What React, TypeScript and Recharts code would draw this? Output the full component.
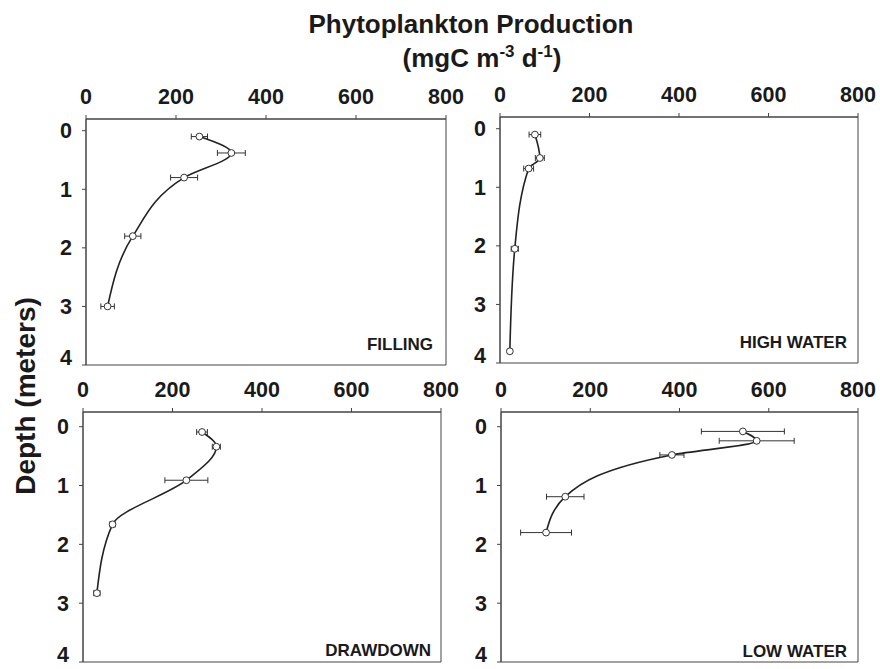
import React from 'react';
import { ComposedChart, Line, XAxis, YAxis, ErrorBar, ReferenceArea } from 'recharts';

const prodTicks = [0, 200, 400, 600, 800];
const depthTicks = [0, 1, 2, 3, 4];

// FILLING
const fillingDepth = [0.1, 0.38, 0.8, 1.8, 3.0];
const fillingProd = [252, 323, 218, 104, 48];
const fillingErr = [18, 31, 30, 18, 15];

// HIGH WATER
const highDepth = [0.1, 0.5, 0.68, 2.05, 3.8];
const highProd = [78, 89, 64, 33, 22];
const highErr = [13, 10, 11, 8, 4];

// DRAWDOWN
const drawDepth = [0.09, 0.34, 0.91, 1.66, 2.83];
const drawProd = [266, 298, 231, 66, 31];
const drawErr = [12, 9, 48, 6, 7];

// LOW WATER
const lowDepth = [0.08, 0.24, 0.48, 1.19, 1.8];
const lowProd = [542, 573, 383, 144, 101];
const lowErr = [93, 84, 27, 42, 57];

const FONT = '"Liberation Sans", Arial, Helvetica, sans-serif';
const INK = '#1a1a1a';

const toRows = (depth: number[], prod: number[], err: number[]) =>
  depth.map((d, i) => ({ depth: d, prod: prod[i], err: err[i] }));

type Box = { l: number; t: number; r: number; b: number };

const Y_W = 45;
const X_H = 40;
const MR = 30;
const MB = 5;

const Panel = ({ rows, box, yMin }: { rows: any[]; box: Box; yMin: number }) => {
  const width = box.r - box.l + Y_W + MR;
  const height = box.b - box.t + X_H + MB;
  const tickStyle = { fontSize: 21.5, fontWeight: 700, fill: INK, fontFamily: FONT };
  return (
    <div style={{ position: 'absolute', left: box.l - Y_W, top: box.t - X_H }}>
      <ComposedChart
        width={width}
        height={height}
        data={rows}
        layout="vertical"
        margin={{ top: 0, right: MR, bottom: MB, left: 0 }}
      >
        <XAxis
          type="number"
          dataKey="prod"
          orientation="top"
          domain={[0, 800]}
          ticks={prodTicks}
          allowDataOverflow
          height={X_H}
          tick={tickStyle}
          tickSize={4}
          tickMargin={11}
          axisLine={{ stroke: '#444' }}
          tickLine={{ stroke: '#444' }}
        />
        <YAxis
          type="number"
          dataKey="depth"
          domain={[yMin, 4]}
          ticks={depthTicks}
          allowDataOverflow
          width={Y_W}
          tick={tickStyle}
          tickSize={4}
          tickMargin={10}
          axisLine={{ stroke: '#444' }}
          tickLine={{ stroke: '#444' }}
        />
        <ReferenceArea x1={0} x2={800} y1={yMin} y2={4} fill="none" stroke="#444" strokeWidth={1} />
        <Line
          dataKey="prod"
          type="monotone"
          stroke="#222"
          strokeWidth={1.6}
          dot={{ r: 3.4, fill: '#fff', stroke: '#333', strokeWidth: 1 }}
          activeDot={false}
          isAnimationActive={false}
        >
          <ErrorBar dataKey="err" direction="x" width={3} stroke="#333" strokeWidth={1} />
        </Line>
      </ComposedChart>
    </div>
  );
};

const App = () => {
  const labelStyle = { fontSize: 17, fontWeight: 700, fill: INK, fontFamily: FONT };
  return (
    <div style={{ position: 'absolute', left: 0, top: 0, width: 880, height: 669, background: '#fff' }}>
      <Panel rows={toRows(fillingDepth, fillingProd, fillingErr)} box={{ l: 86, t: 119, r: 446, b: 365 }} yMin={-0.2} />
      <Panel rows={toRows(highDepth, highProd, highErr)} box={{ l: 500, t: 117, r: 858, b: 363 }} yMin={-0.2} />
      <Panel rows={toRows(drawDepth, drawProd, drawErr)} box={{ l: 83, t: 412, r: 441, b: 662 }} yMin={-0.25} />
      <Panel rows={toRows(lowDepth, lowProd, lowErr)} box={{ l: 501, t: 412, r: 858, b: 662 }} yMin={-0.25} />
      <svg width={880} height={669} style={{ position: 'absolute', left: 0, top: 0, pointerEvents: 'none' }}>
        <text x={471} y={33} textAnchor="middle" style={{ fontSize: 26, fontWeight: 700, fill: INK, fontFamily: FONT }}>
          Phytoplankton Production
        </text>
        <text x={482} y={67} textAnchor="middle" style={{ fontSize: 26, fontWeight: 700, fill: INK, fontFamily: FONT }}>
          (mgC m<tspan dy={-10} style={{ fontSize: 17 }}>-3</tspan>
          <tspan dy={10}> d</tspan>
          <tspan dy={-10} style={{ fontSize: 17 }}>-1</tspan>
          <tspan dy={10}>)</tspan>
        </text>
        <text
          x={35}
          y={396}
          textAnchor="middle"
          transform="rotate(-90, 35, 396)"
          style={{ fontSize: 28, fontWeight: 700, fill: INK, fontFamily: FONT }}
        >
          Depth (meters)
        </text>
        <text x={433} y={350} textAnchor="end" style={labelStyle}>FILLING</text>
        <text x={847} y={348} textAnchor="end" style={labelStyle}>HIGH WATER</text>
        <text x={431} y={656} textAnchor="end" style={labelStyle}>DRAWDOWN</text>
        <text x={847} y={657} textAnchor="end" style={labelStyle}>LOW WATER</text>
      </svg>
    </div>
  );
};

export default App;
